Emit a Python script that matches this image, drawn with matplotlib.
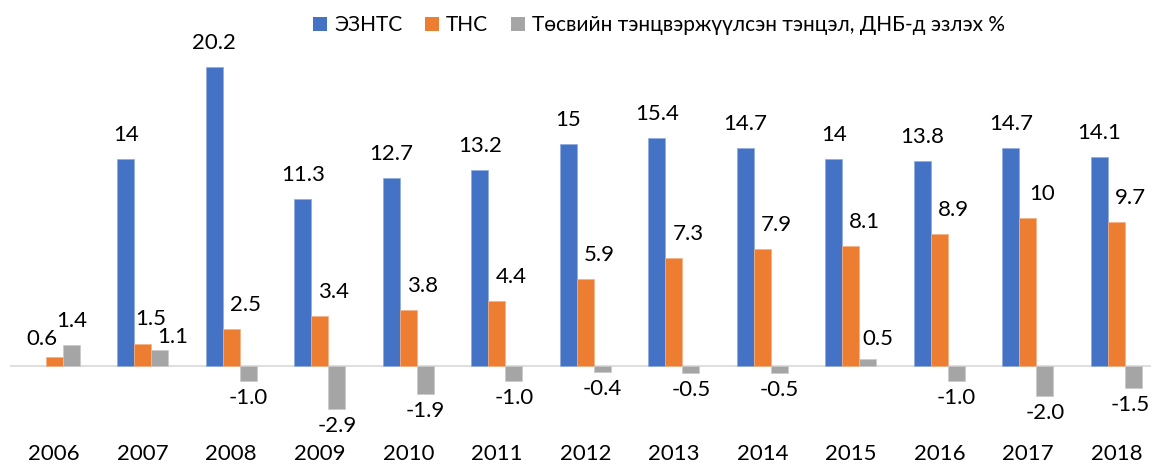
import numpy as np
import matplotlib
matplotlib.use("Agg")
import matplotlib.pyplot as plt
from matplotlib.patches import Patch

plt.rcParams['font.family'] = ['Lato', 'Open Sans', 'DejaVu Sans']

years = ['2006', '2007', '2008', '2009', '2010', '2011', '2012', '2013', '2014', '2015', '2016', '2017', '2018']
eznts = [np.nan, 14, 20.2, 11.3, 12.7, 13.2, 15, 15.4, 14.7, 14, 13.8, 14.7, 14.1]
tns = [0.6, 1.5, 2.5, 3.4, 3.8, 4.4, 5.9, 7.3, 7.9, 8.1, 8.9, 10, 9.7]
balance = [1.4, 1.1, -1.0, -2.9, -1.9, -1.0, -0.4, -0.5, -0.5, 0.5, -1.0, -2.0, -1.5]

eznts_labels = ['', '14', '20.2', '11.3', '12.7', '13.2', '15', '15.4', '14.7', '14', '13.8', '14.7', '14.1']
tns_labels = ['0.6', '1.5', '2.5', '3.4', '3.8', '4.4', '5.9', '7.3', '7.9', '8.1', '8.9', '10', '9.7']
balance_labels = ['1.4', '1.1', '-1.0', '-2.9', '-1.9', '-1.0', '-0.4', '-0.5', '-0.5', '0.5', '-1.0', '-2.0', '-1.5']

series_names = ['ЭЗНТС', 'ТНС', 'Төсвийн тэнцвэржүүлсэн тэнцэл, ДНБ-д эзлэх %']
colors = ['#4472C4', '#ED7D31', '#A5A5A5']

W, H = 1151, 466
fig = plt.figure(figsize=(W / 100, H / 100), dpi=100)
ax = fig.add_axes([10 / W, (H - 440) / H, 1141 / W, 400 / H])

x = np.arange(len(years))
bw = 0.192
ax.bar(x - bw, eznts, bw, color=colors[0], edgecolor='#8FAADC', linewidth=0.5)
ax.bar(x, tns, bw, color=colors[1], edgecolor='#F4B183', linewidth=0.5)
ax.bar(x + bw, balance, bw, color=colors[2], edgecolor='#C9C9C9', linewidth=0.5)

ax.axhline(0, color='#D9D9D9', linewidth=1.2, zorder=0)
ax.set_xlim(-0.5, 12.39)
ax.set_ylim(-5, 22)
for s in ax.spines.values():
    s.set_visible(False)
ax.set_yticks([])
ax.set_xticks(x)
ax.set_xticklabels(years, fontsize=16, color='black')
ax.tick_params(axis='x', length=0, pad=3)

fs = 16
for i in range(len(years)):
    if eznts_labels[i]:
        ax.annotate(eznts_labels[i], (x[i] - bw, eznts[i]), xytext=(0, 24),
                    textcoords='offset pixels', ha='center', va='center', fontsize=fs)
    if i == 0:
        dx, dy = -12, 18
    elif i == 1:
        dx, dy = 8, 25
    else:
        dx, dy = 14, 24
    ax.annotate(tns_labels[i], (x[i], tns[i]), xytext=(dx, dy),
                textcoords='offset pixels', ha='center', va='center', fontsize=fs)
    v = balance[i]
    if v >= 0:
        if i == 0:
            dxb, dyb = 0, 24
        elif i == 1:
            dxb, dyb = 13, 13
        else:
            dxb, dyb = 10, 20
        ax.annotate(balance_labels[i], (x[i] + bw, v), xytext=(dxb, dyb),
                    textcoords='offset pixels', ha='center', va='center', fontsize=fs)
    else:
        dxb = -3 if i == 12 else 0
        ax.annotate(balance_labels[i], (x[i] + bw, v), xytext=(dxb, -17),
                    textcoords='offset pixels', ha='center', va='center', fontsize=fs)

handles = [Patch(facecolor=c, edgecolor='none') for c in colors]
fig.legend(handles, series_names, loc='center', bbox_to_anchor=(659 / W, 1 - 25 / H),
           ncol=3, frameon=False, fontsize=15, handlelength=0.65, handleheight=0.65,
           handletextpad=0.35, columnspacing=1.1)

fig.savefig('out.png', dpi=100)
